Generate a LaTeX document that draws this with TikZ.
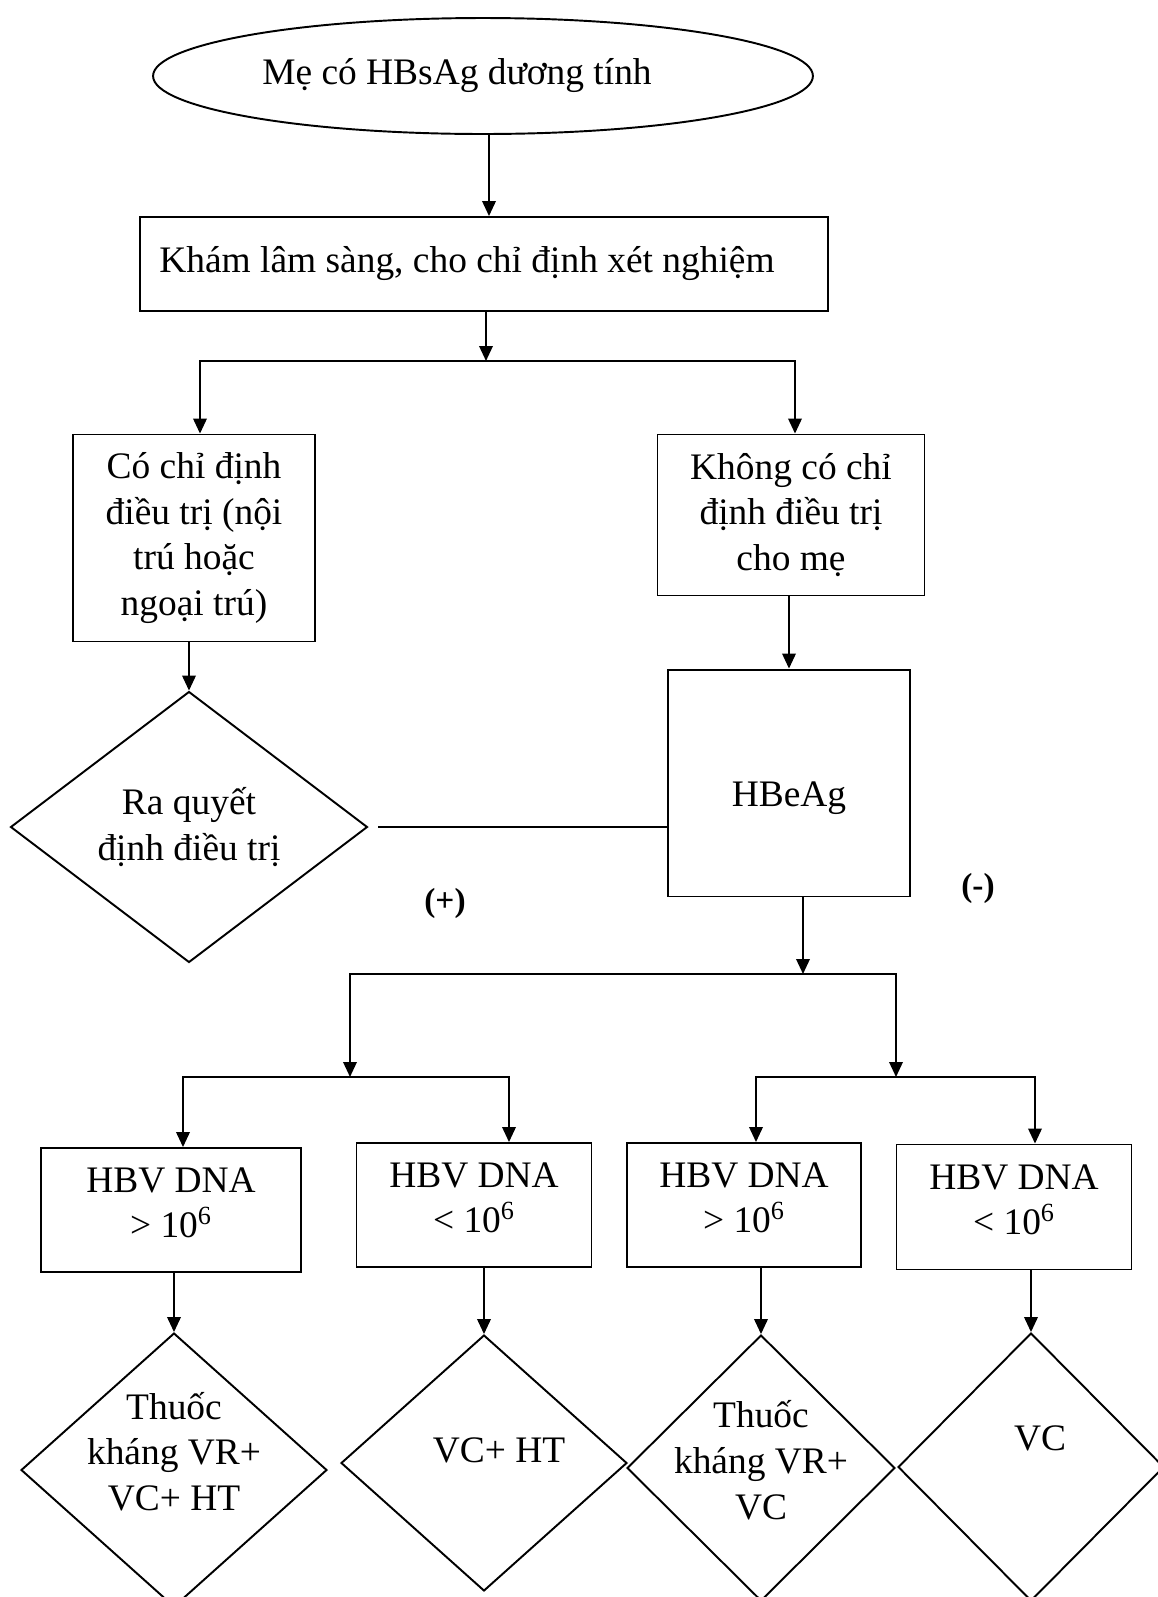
\documentclass[tikz,border=0pt]{standalone}
\usepackage{fontspec}
\setmainfont{Liberation Serif}
\usetikzlibrary{shapes.geometric,arrows.meta}

\begin{document}
\begin{tikzpicture}[x=0.02cm,y=-0.02cm,line width=1.1pt,>={Triangle[length=0.3cm,width=0.27cm]},
font=\fontsize{21.3}{26}\selectfont]
\tikzstyle{box}=[rectangle,draw,align=center,inner sep=0pt]
\tikzstyle{dnabox}=[box,minimum width=4.7cm,minimum height=2.48cm,text depth=0.3cm]
\tikzstyle{choice}=[diamond,draw,align=center,inner sep=-12pt]
\tikzstyle{sign}=[font=\fontsize{19}{22}\selectfont\bfseries]
\useasboundingbox (0,0) rectangle (1158,1597);
\clip (0,0) rectangle (1158,1597);

\node[ellipse,draw,minimum width=13.2cm,minimum height=2.32cm] (me) at (483,76) {\hspace*{-1.04cm}Mẹ có HBsAg dương tính};
\node[box,minimum width=13.78cm,minimum height=1.88cm] (kham) at (484,264) {\hspace*{-0.68cm}Khám lâm sàng, cho chỉ định xét nghiệm};
\node[box,minimum width=4.84cm,minimum height=4.14cm] (codinh) at (194,538) {Có chỉ định\\điều trị (nội\\trú hoặc\\ngoại trú)};
\node[box,minimum width=5.34cm,minimum height=3.22cm] (khong) at (791,515) {Không có chỉ\\định điều trị\\cho mẹ};
\node[choice,minimum width=7.14cm,minimum height=5.42cm] (quyet) at (189,827) {Ra quyết\\định điều trị};
\node[box,minimum width=4.84cm,minimum height=4.54cm,text height=1.1cm] (hbe) at (789,783) {HBeAg};
\node[sign] (plus) at (445,903) {(+)};
\node[sign] (minus) at (978,888) {(-)};

\node[dnabox,minimum width=5.2cm] (dna1) at (171,1210) {HBV DNA\\> 10\textsuperscript{6}};
\node[dnabox] (dna2) at (474,1205) {HBV DNA\\< 10\textsuperscript{6}};
\node[dnabox,minimum width=4.68cm] (dna3) at (744,1205) {HBV DNA\\> 10\textsuperscript{6}};
\node[dnabox,minimum height=2.5cm] (dna4) at (1014,1207) {HBV DNA\\< 10\textsuperscript{6}};

\node[choice,minimum width=6.12cm,minimum height=5.48cm,text depth=0.75cm] (t1) at (174,1470) {Thuốc\\kháng VR+\\VC+ HT};
\node[choice,minimum width=5.72cm,minimum height=5.12cm,text depth=0.5cm] (t2) at (484,1463) {\hspace*{0.6cm}VC+ HT};
\node[choice,minimum width=5.36cm,minimum height=5.32cm,text depth=0.33cm] (t3) at (761,1468) {Thuốc\\kháng VR+\\VC};
\node[choice,minimum width=5.32cm,minimum height=5.36cm,text depth=1.14cm] (t4) at (1031,1467) {\hspace*{0.36cm}VC};

\coordinate (a0) at (489,0);
\coordinate (b1) at (486,361);
\coordinate (b1l) at (200,361);
\coordinate (b1r) at (795,361);
\coordinate (b2) at (803,974);
\coordinate (b2l) at (350,974);
\coordinate (b2r) at (896,974);
\coordinate (c1) at (183,1077);
\coordinate (c2) at (509,1077);
\coordinate (c3) at (756,1077);
\coordinate (c4) at (1035,1077);

\draw[->] (me.south -| a0) -- (kham.north -| a0);
\draw[->] (kham.south -| b1) -- (b1);
\draw[<->] (b1l |- codinh.north) -- (b1l) -- (b1r) -- (b1r |- khong.north);
\draw[->] (codinh.south -| quyet) -- (quyet.north);
\draw[->] (khong.south -| hbe) -- (hbe.north);
\draw ([xshift=0.2cm]quyet.east) -- (quyet.east -| hbe.west);
\draw[->] (hbe.south -| b2) -- (b2);
\draw[<->] (b2l |- c1) -- (b2l) -- (b2r) -- (b2r |- c1);
\draw[<->] (c1 |- dna1.north) -- (c1) -- (c2) -- (c2 |- dna2.north);
\draw[<->] (c3 |- dna3.north) -- (c3) -- (c4) -- (c4 |- dna4.north);
\draw[->] (dna1.south -| t1) -- (t1.north);
\draw[->] (dna2.south -| t2) -- (t2.north);
\draw[->] (dna3.south -| t3) -- (t3.north);
\draw[->] (dna4.south -| t4) -- (t4.north);
\end{tikzpicture}
\end{document}
